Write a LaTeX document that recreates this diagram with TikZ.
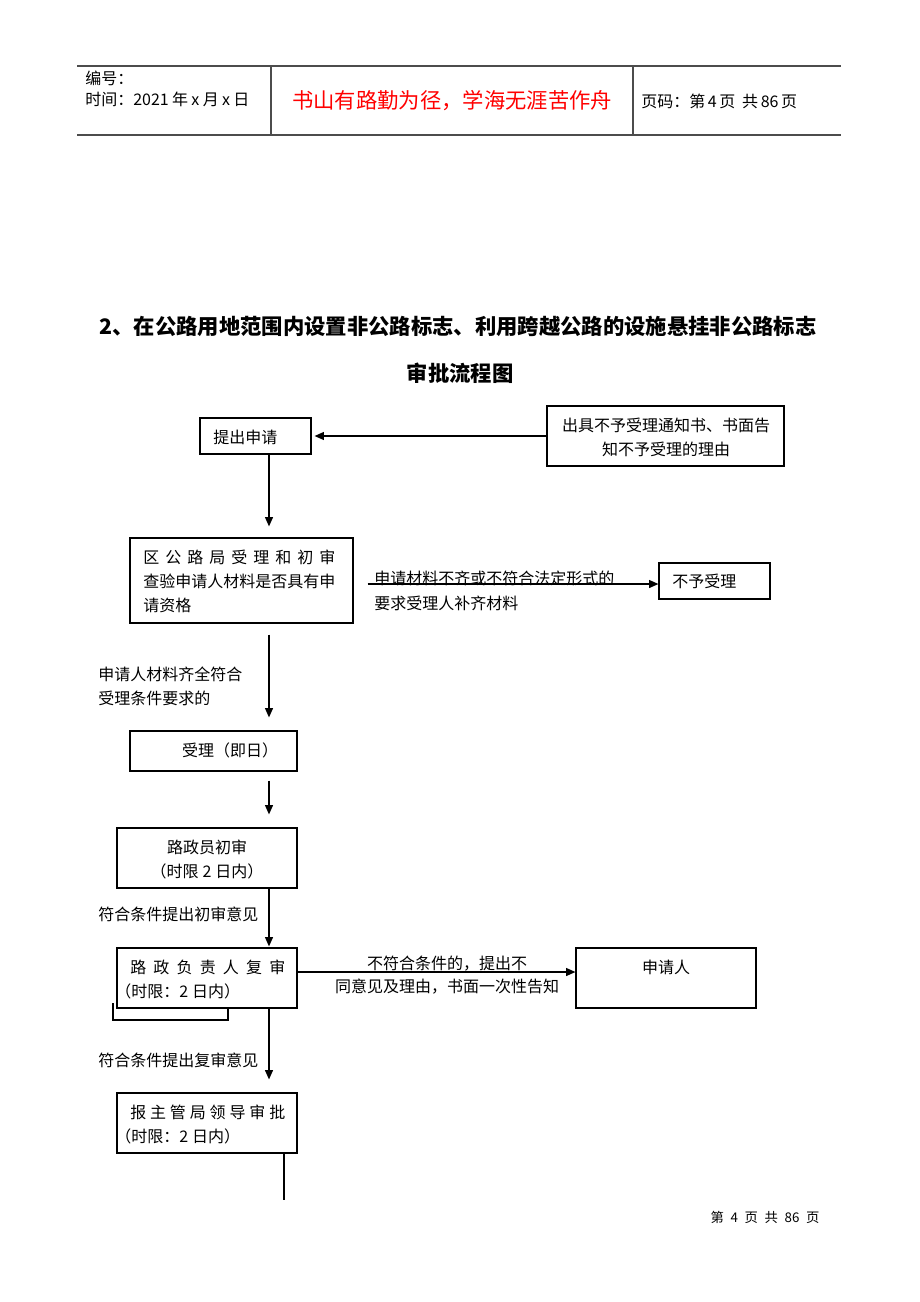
\documentclass[tikz,border=0pt]{standalone}
\usepackage{fontspec}
\setmainfont{Noto Sans CJK SC}
\usetikzlibrary{arrows.meta}
\newlength\pxu
\setlength\pxu{0.75pt}
\begin{document}
\begin{tikzpicture}[x=0.75pt,y=-0.75pt,
  txt/.style={inner sep=0pt, font=\fontsize{12}{18}\selectfont},
  box/.style={draw, line width=0.9pt, inner sep=0pt},
  arr/.style={line width=0.9pt, -{Triangle[length=7pt,width=6pt]}},
  plain/.style={line width=0.9pt},
  hdr/.style={line width=0.8pt, draw=black!70}]
\useasboundingbox (0,0) rectangle (920,1302);
\fill[white] (0,0) rectangle (920,1302);
% header
\draw[hdr] (77,66) -- (841,66);
\draw[hdr] (77,135) -- (841,135);
\draw[hdr] (271,66) -- (271,135);
\draw[hdr] (633,66) -- (633,135);
\node[txt,anchor=west] (hno) at (85,78) {编号：};
\node[txt,anchor=west] (htime) at (85,99) {时间：2021\hspace{2.5pt}年\hspace{2.5pt}x\hspace{2.5pt}月\hspace{2.5pt}x\hspace{2.5pt}日};
\node[txt,text=red,font=\fontsize{16}{19}\selectfont] (motto) at (452,101) {书山有路勤为径，学海无涯苦作舟};
\node[txt,anchor=west] (hpage) at (641,101) {页码：第\hspace{2pt}4\hspace{2pt}页\hspace{5pt}共\hspace{2pt}86\hspace{2pt}页};
% title
\node[txt,font=\fontsize{16}{19}\selectfont\bfseries] (title1) at (458,326) {2、在公路用地范围内设置非公路标志、利用跨越公路的设施悬挂非公路标志};
\node[txt,font=\fontsize{16}{19}\selectfont\bfseries] (title2) at (460,373) {审批流程图};
% helper coordinates
\coordinate (colx) at (269,0);
\coordinate (rowA) at (0,584);
\coordinate (rowB) at (0,972);
\coordinate (endc) at (284,1200);
% boxes
\node[box,minimum width=111\pxu,minimum height=36\pxu] (apply) at (255.5,436) {};
\node[txt,anchor=west] (applyt) at (213,437) {提出申请};
\node[box,minimum width=237\pxu,minimum height=60\pxu] (out1) at (665.5,436) {};
\node[txt,align=center] (out1t) at (666,437) {出具不予受理通知书、书面告\\知不予受理的理由};
\node[box,minimum width=223\pxu,minimum height=85\pxu] (ju) at (241.5,580.5) {};
\node[txt,anchor=west,align=left] (jut) at (143,581) {\makebox[12em][s]{区 公 路 局 受 理 和 初 审}\\查验申请人材料是否具有申\\请资格};
\node[box,minimum width=111\pxu,minimum height=36\pxu] (nobox) at (714.5,581) {};
\node[txt,anchor=west] (noboxt) at (672,581) {不予受理};
\node[txt,anchor=west] (lblA1) at (374,578) {申请材料不齐或不符合法定形式的};
\node[txt,anchor=west] (lblA2) at (374,603) {要求受理人补齐材料};
\node[txt,anchor=west] (lblB1) at (98,674) {申请人材料齐全符合};
\node[txt,anchor=west] (lblB2) at (98,698) {受理条件要求的};
\node[box,minimum width=167\pxu,minimum height=40\pxu] (accept) at (213.5,751) {};
\node[txt] (acceptt) at (230,750) {受理（即日）};
\node[box,minimum width=180\pxu,minimum height=60\pxu] (r1) at (207,858) {};
\node[txt] (r1a) at (207,847) {路政员初审};
\node[txt] (r1b) at (207,871) {（时限\hspace{3pt}2\hspace{3pt}日内）};
\node[txt,anchor=west] (lblC) at (98,914) {符合条件提出初审意见};
\draw[plain] (113,1003) -- (113,1020) -- (228,1020) -- (228,1008);
\node[box,minimum width=180\pxu,minimum height=60\pxu] (r2) at (207,978) {};
\node[txt,anchor=west] (r2a) at (130,967) {\makebox[155\pxu][s]{路 政 负 责 人 复 审}};
\node[txt,anchor=west] (r2b) at (115,991) {（时限：2\hspace{3pt}日内）};
\node[box,minimum width=180\pxu,minimum height=60\pxu] (appl) at (666,978) {};
\node[txt] (applt) at (666,967) {申请人};
\node[txt] (lblD1) at (447,964) {不符合条件的，提出不};
\node[txt] (lblD2) at (447,987) {同意见及理由，书面一次性告知};
\node[txt,anchor=west] (lblE) at (98,1060) {符合条件提出复审意见};
\node[box,minimum width=180\pxu,minimum height=60\pxu] (r3) at (207,1123) {};
\node[txt,anchor=west] (r3a) at (130,1112) {\makebox[155\pxu][s]{报 主 管 局 领 导 审 批}};
\node[txt,anchor=west] (r3b) at (115,1136) {（时限：2\hspace{3pt}日内）};
% footer
\node[txt,font=\fontsize{10}{12}\selectfont] (foot) at (765,1217) {第\hspace{5pt}4\hspace{5pt}页\hspace{5pt}共\hspace{5pt}86\hspace{5pt}页};
% connectors
\draw[arr,shorten >=3\pxu] (out1.west) -- (apply.east);
\draw[arr,shorten >=11\pxu] (apply.south -| colx) -- (ju.north -| colx);
\draw[arr,shorten <=11\pxu,shorten >=13\pxu] (ju.south -| colx) -- (accept.north -| colx);
\draw[arr,shorten <=9\pxu,shorten >=13\pxu] (accept.south -| colx) -- (r1.north -| colx);
\draw[arr,shorten >=1\pxu] (r1.south -| colx) -- (r2.north -| colx);
\draw[arr,shorten >=13\pxu] (r2.south -| colx) -- (r3.north -| colx);
\draw[plain] (r3.south -| endc) -- (endc);
\draw[arr,shorten <=14\pxu] (ju.east |- rowA) -- (nobox.west |- rowA);
\draw[arr] (r2.east |- rowB) -- (appl.west |- rowB);
\end{tikzpicture}
\end{document}
